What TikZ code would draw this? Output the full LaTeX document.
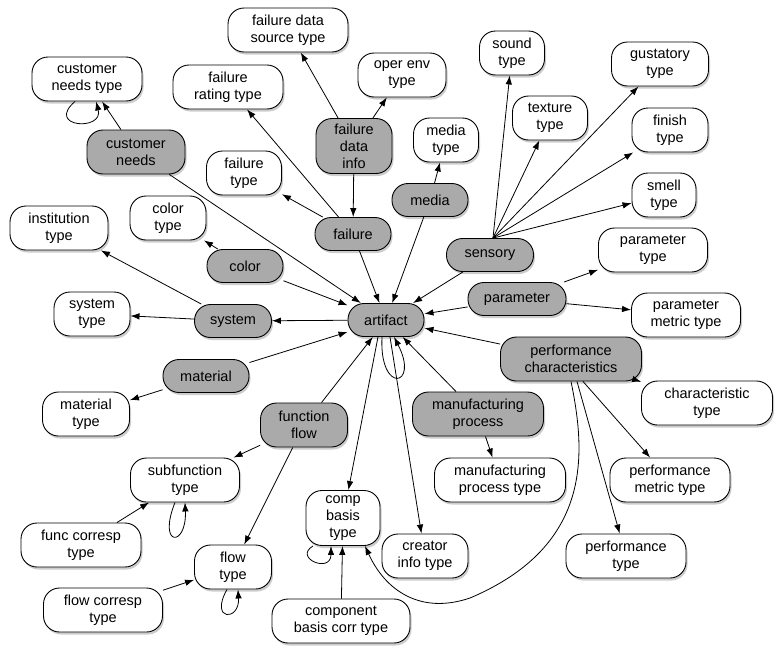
\documentclass[tikz,border=0pt]{standalone}
\usepackage{fontspec}
\setmainfont{Liberation Sans}
\usetikzlibrary{arrows.meta,shadows}
\definecolor{conceptgray}{RGB}{170,170,170}

\begin{document}
\begin{tikzpicture}[x=1pt, y=-1pt, line width=0.8pt, >={Latex[length=9pt,width=6.5pt]},
    box/.style={draw, line width=0.9pt, rounded corners=16pt, minimum height=33pt, inner xsep=8pt, inner ysep=2pt,
      align=center, font=\fontsize{14.5}{17}\selectfont,
      drop shadow={opacity=0.4, shadow xshift=1.5pt, shadow yshift=-2.5pt}},
    concept/.style={box, fill=conceptgray},
    kind/.style={box, fill=white},
    two/.style={minimum height=44pt},
    three/.style={minimum height=55pt}]
    \useasboundingbox (0,0) rectangle (780,648);

    % gray concept nodes
    \node[concept, minimum width=76pt] (artifact) at (386,320) {artifact};
    \node[concept, two, minimum width=98pt] (custneeds) at (136,152) {customer\\needs};
    \node[concept, three, minimum width=76pt] (faildatainfo) at (354,146) {failure\\data\\info};
    \node[concept, minimum width=76pt] (failure) at (353,234) {failure};
    \node[concept, minimum width=76pt] (color) at (245,266) {color};
    \node[concept, minimum width=77pt] (system) at (233,321) {system};
    \node[concept, minimum width=76pt] (media) at (430,200) {media};
    \node[concept, minimum width=87pt] (sensory) at (490,255) {sensory};
    \node[concept, minimum width=98pt] (parameter) at (517,299) {parameter};
    \node[concept, two, minimum width=141pt] (perfchar) at (571,359) {performance\\characteristics};
    \node[concept, two, minimum width=131pt] (manuproc) at (478,414) {manufacturing\\process};
    \node[concept, minimum width=86pt] (material) at (206,376) {material};
    \node[concept, two, minimum width=87pt] (funcflow) at (304,425) {function\\flow};

    % white type nodes
    \node[kind, two, minimum width=110pt] (custneedstype) at (87,79) {customer\\needs type};
    \node[kind, two, minimum width=120pt] (faildatasrc) at (288,30) {failure data\\source type};
    \node[kind, two, minimum width=110pt] (failrating) at (228,87) {failure\\rating type};
    \node[kind, two, minimum width=88pt] (operenv) at (402,75) {oper env\\type};
    \node[kind, two, minimum width=75pt] (failtype) at (244,173) {failure\\type};
    \node[kind, two, minimum width=76pt] (colortype) at (168,218) {color\\type};
    \node[kind, two, minimum width=98pt] (institution) at (59,228) {institution\\type};
    \node[kind, two, minimum width=76pt] (systemtype) at (92,314) {system\\type};
    \node[kind, two, minimum width=87pt] (materialtype) at (86,414) {material\\type};
    \node[kind, two, minimum width=109pt] (subfunc) at (185,480) {subfunction\\type};
    \node[kind, two, minimum width=120pt] (funccorresp) at (81,545) {func corresp\\type};
    \node[kind, two, minimum width=77pt] (flowtype) at (233,567) {flow\\type};
    \node[kind, two, minimum width=119pt] (flowcorresp) at (103,610) {flow corresp\\type};
    \node[kind, three, minimum width=74pt] (compbasis) at (343,518) {comp\\basis\\type};
    \node[kind, two, minimum width=138pt] (compcorr) at (341,621) {component\\basis corr type};
    \node[kind, two, minimum width=86pt] (creator) at (425,556) {creator\\info type};
    \node[kind, two, minimum width=131pt] (manuproctype) at (500,480) {manufacturing\\process type};
    \node[kind, two, minimum width=120pt] (perfmetric) at (670,480) {performance\\metric type};
    \node[kind, two, minimum width=120pt] (perftype) at (626,556) {performance\\type};
    \node[kind, two, minimum width=131pt] (chartype) at (707,403) {characteristic\\type};
    \node[kind, two, minimum width=109pt] (parammetric) at (686,315) {parameter\\metric type};
    \node[kind, two, minimum width=109pt] (paramtype) at (653,250) {parameter\\type};
    \node[kind, two, minimum width=64pt] (smelltype) at (664,195) {smell\\type};
    \node[kind, two, minimum width=76pt] (finishtype) at (670,130) {finish\\type};
    \node[kind, two, minimum width=97pt] (gustatory) at (660,64) {gustatory\\type};
    \node[kind, two, minimum width=75pt] (texture) at (550,118) {texture\\type};
    \node[kind, two, minimum width=65pt] (sound) at (512,53) {sound\\type};
    \node[kind, two, minimum width=65pt] (mediatype) at (446,140) {media\\type};

    % links into artifact
    \draw[->] (custneeds) -- (artifact);
    \draw[->] (failure) -- (artifact);
    \draw[->] (media) -- (artifact);
    \draw[->] (color) -- (artifact);
    \draw[->] (sensory) -- (artifact);
    \draw[->] (parameter) -- (artifact);
    \draw[->] (perfchar) -- (artifact);
    \draw[->] (manuproc) -- (artifact);
    \draw[->] (material) -- (artifact);
    \draw[->] (funcflow) -- (artifact);

    % links out of artifact
    \draw[->] (artifact) -- (system);
    \draw[->] ([xshift=-8pt]artifact.south) -- (compbasis);
    \draw[->] ([xshift=4pt]artifact.south) -- (creator);
    \draw[->] ([xshift=-4pt]artifact.south) .. controls +(-3,58) and +(26,50) .. ([xshift=8pt]artifact.south);

    % concepts to their types
    \draw[->] (custneeds) -- (custneedstype);
    \draw[->] (faildatainfo) -- (faildatasrc);
    \draw[->] (faildatainfo) -- (operenv);
    \draw[->] (faildatainfo) -- (failure);
    \draw[->] (failure) -- (failrating);
    \draw[->] (failure) -- (failtype);
    \draw[->] (media) -- (mediatype);
    \draw[->] (color) -- (colortype);
    \draw[->] (system) -- (institution);
    \draw[->] (system) -- (systemtype);
    \draw[->] (material) -- (materialtype);
    \draw[->] (funcflow) -- (subfunc);
    \draw[->] (funcflow) -- (flowtype);
    \draw[->] (manuproc) -- (manuproctype);
    \foreach \t in {sound,texture,gustatory,finishtype,smelltype}
        \draw[->] ([xshift=3pt]sensory.north) -- (\t);
    \draw[->] (parameter) -- (paramtype);
    \draw[->] (parameter) -- (parammetric);
    \draw[->] (perfchar) -- (chartype);
    \draw[->] ([xshift=12pt]perfchar.south) -- (perfmetric);
    \draw[->] ([xshift=6pt]perfchar.south) -- (perftype);
    \draw[->] (perfchar.south) .. controls (585,450) and (595,545) .. (470,598)
        .. controls (420,615) and (385,590) .. ([xshift=22pt]compbasis.south);

    % correspondences
    \draw[->] (funccorresp) -- (subfunc);
    \draw[->] (flowcorresp) -- (flowtype);
    \draw[->] (compcorr) -- (compbasis);

    % self loops
    \draw[->] ([xshift=-12pt]custneedstype.south) .. controls +(-30,26) and +(8,30) .. ([xshift=9pt]custneedstype.south);
    \draw[->] ([xshift=-10pt]subfunc.south) .. controls +(-18,45) and +(2,45) .. (subfunc.south);
    \draw[->] ([xshift=-6pt]flowtype.south) .. controls +(-18,32) and +(2,32) .. ([xshift=5pt]flowtype.south);
    \draw[->] ([xshift=-30pt]compbasis.south) .. controls +(-20,12) and +(0,28) .. ([xshift=-12pt]compbasis.south);
\end{tikzpicture}
\end{document}
